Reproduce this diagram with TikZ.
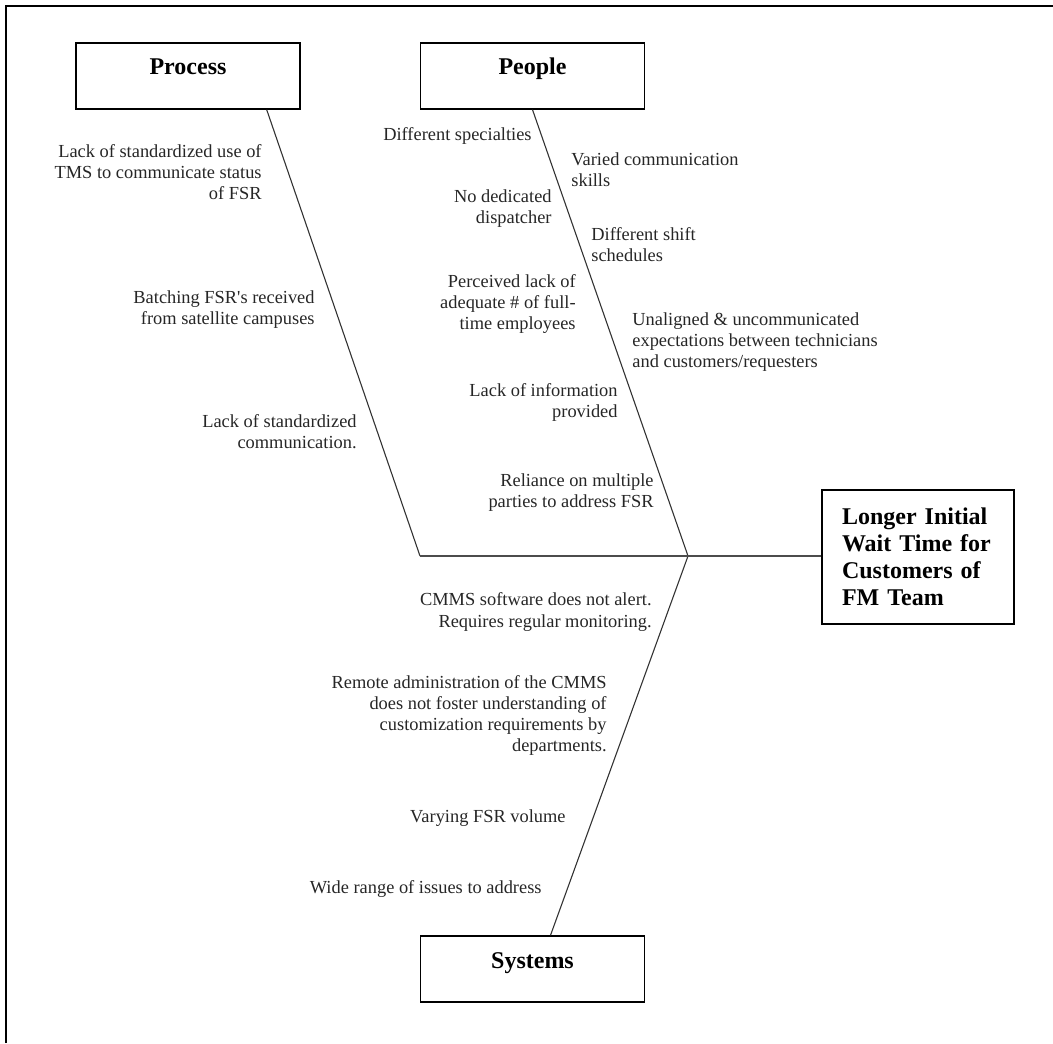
\documentclass[tikz,border=0pt]{standalone}
\usepackage{fontspec}
\setmainfont{Liberation Serif}
\usetikzlibrary{calc}
\tikzset{
  catbox/.style={draw=black, line width=0.7pt, rectangle, inner sep=0pt,
    minimum width=112pt, text height=16pt, text depth=17pt,
    font=\fontsize{12}{13.5}\selectfont\bfseries},
  effectbox/.style={draw=black, line width=0.7pt, rectangle, inner xsep=10pt,
    minimum width=96pt, minimum height=67pt, text width=76pt, align=left,
    font=\fontsize{12}{13.5}\selectfont\bfseries},
  lbl/.style={inner sep=0pt, font=\fontsize{9.2}{10.5}\selectfont, text=black!85},
  lr/.style={lbl, anchor=east, align=right},
  ll/.style={lbl, anchor=west, align=left},
  spine/.style={draw=black!80, line width=0.55pt},
  mainline/.style={draw=black!70, line width=0.8pt},
  frame/.style={draw=black, line width=1.1pt}
}
\begin{document}
\begin{tikzpicture}[x=0.5pt, y=-0.5pt]
\useasboundingbox (0,0) rectangle (1053,1043);
\draw[frame] (6,1043) -- (6,6) -- (1053,6);

% category boxes
\node[catbox] (process) at (188,76) {Process};
\node[catbox] (people) at (532.5,76) {People};
\node[catbox] (systems) at (532.5,969) {Systems};
\node[effectbox] (effect) at (918,557) {Longer Initial\\Wait Time for\\Customers of\\FM Team};

% junctions
\coordinate (pj) at (420,556);
\coordinate (hj) at (688,556);

% spines
\draw[spine] ($(process.south east)+(-34,0)$) -- (pj);
\draw[spine] (people.south) -- (hj);
\draw[spine] (hj) -- ($(systems.north)+(18,0)$);
\draw[mainline] (pj) -- (hj) -- (effect.west |- hj);

% Process causes
\node[lr] (p1) at (262,172) {Lack of standardized use of\\TMS to communicate status\\of FSR};
\node[lr] (p2) at (315,309.5) {Batching FSR\textquotesingle s received\\from satellite campuses};
\node[lr] (p3) at (357,431.5) {Lack of standardized\\communication.};

% People causes (left)
\node[lr] (q1) at (532,136) {Different specialties};
\node[lr] (q2) at (552,209) {No dedicated\\dispatcher};
\node[lr] (q3) at (576,304) {Perceived lack of\\adequate \# of full-\\time employees};
\node[lr] (q4) at (618,402) {Lack of information\\provided};
\node[lr] (q5) at (654,492.5) {Reliance on multiple\\parties to address FSR};

% People causes (right)
\node[ll] (r1) at (571,169.5) {Varied communication\\skills};
\node[ll] (r2) at (591,245) {Different shift\\schedules};
\node[ll] (r3) at (632,342) {Unaligned \& uncommunicated\\expectations between technicians\\and customers/requesters};

% Systems causes
\node[lr] (s1) at (652,612) {CMMS software does not alert.\\Requires regular monitoring.};
\node[lr] (s2) at (607,715.5) {Remote administration of the CMMS\\does not foster understanding of\\customization requirements by\\departments.};
\node[lr] (s3) at (566,818) {Varying FSR volume};
\node[lr] (s4) at (542,889) {Wide range of issues to address};
\end{tikzpicture}
\end{document}
